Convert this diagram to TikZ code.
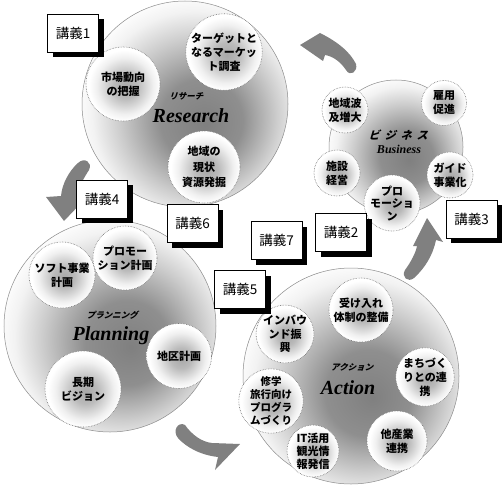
\documentclass[tikz,border=0pt]{standalone}
\usepackage{fontspec}
\newfontfamily\cjk{Noto Sans CJK JP}
\newfontfamily\cjkit{Noto Sans CJK JP}[FakeSlant=0.3]
\newfontfamily\tnr{Liberation Serif}
\usetikzlibrary{shadows}
\pgfdeclareradialshading{bigball}{\pgfpoint{5bp}{-5bp}}{color(0bp)=(black!50); color(10bp)=(black!44); color(19bp)=(black!20); color(25bp)=(black!5); color(29bp)=(white); color(50bp)=(white)}
\pgfdeclareradialshading{smallball}{\pgfpoint{2bp}{-2bp}}{color(0bp)=(black!34); color(8bp)=(black!27); color(19bp)=(black!6); color(24bp)=(white); color(50bp)=(white)}
\tikzset{
  bigc/.style={circle, draw=black!45, line width=0.5pt, shading=bigball, minimum size=#1, inner sep=0pt},
  subc/.style={circle, draw=black!55, densely dotted, line width=0.6pt, shading=smallball, minimum size=#1, inner sep=0pt, align=center, font=\cjk\bfseries\fontsize{11}{14}\selectfont},
  lect/.style={rectangle, draw=black, line width=0.8pt, fill=white, minimum width=51pt, minimum height=38pt, inner sep=0pt, font=\cjk\fontsize{13.5}{15}\selectfont, drop shadow={shadow xshift=5pt, shadow yshift=-5pt, fill=black, opacity=1}},
  kana/.style={font=\cjkit\bfseries\fontsize{8.5}{10}\selectfont, inner sep=0pt},
  engl/.style={font=\tnr\bfseries\itshape\fontsize{20}{24}\selectfont, inner sep=0pt},
  swoosh/.style={fill=black!50, draw=none},
}
\begin{document}
\begin{tikzpicture}[x=1pt, y=-1pt]
\useasboundingbox (0,0) rectangle (502,489);
\fill[white] (0,0) rectangle (502,489);

% ---------- big circles ----------
\node[bigc=206pt] (research) at (185,104) {};
\node[bigc=134pt] (business) at (396,147) {};
\node[bigc=212pt] (planning) at (110,326) {};
\node[bigc=216pt] (action) at (351,376) {};

% ---------- Research ----------
\node[subc=74pt] (r1) at (123,84) {市場動向\\の把握};
\node[subc=75pt] (r2) at (224,52) {ターゲットと\\なるマーケッ\\ト調査};
\node[subc=72pt, font=\cjk\bfseries\fontsize{11}{15.5}\selectfont] (r3) at (204,167) {地域の\\現状\\資源発掘};
\node[kana] (rk) at (186,96) {リサーチ};
\node[engl] (re) at (191,116) {Research};

% ---------- Business ----------
\node[subc=46pt] (b1) at (345,110) {地域波\\及増大};
\node[subc=45pt] (b2) at (444,103) {雇用\\促進};
\node[subc=46pt] (b3) at (337,173) {施設\\経営};
\node[subc=46pt, font=\cjk\bfseries\fontsize{11}{12.5}\selectfont] (b4) at (392,203) {プロ\\モーショ\\ン};
\node[subc=46pt] (b5) at (450,175) {ガイド\\事業化};
\node[font=\cjkit\bfseries\fontsize{11}{13}\selectfont, inner sep=0pt] (bk) at (398,135) {ビ\hspace{5pt}ジ\hspace{5pt}ネ\hspace{5pt}ス};
\node[font=\tnr\bfseries\itshape\fontsize{12}{14}\selectfont, inner sep=0pt] (be) at (399,149) {Business};

% ---------- Planning ----------
\node[subc=66pt] (p1) at (62,275) {ソフト事業\\計画};
\node[subc=64pt] (p2) at (125,258) {プロモー\\ション計画};
\node[subc=65pt] (p3) at (179,356) {地区計画};
\node[subc=76pt] (p4) at (83,389) {長期\\ビジョン};
\node[kana] (pk) at (112,315) {プランニング};
\node[engl] (pe) at (111,336) {Planning};

% ---------- Action ----------
\node[subc=64pt] (a1) at (361,310) {受け入れ\\体制の整備};
\node[subc=54pt, font=\cjk\bfseries\fontsize{11}{13.5}\selectfont] (a2) at (285,334) {インバウ\\ンド振\\興};
\node[subc=54pt] (a3) at (425,377) {まちづく\\りとの連\\携};
\node[subc=54pt, font=\cjk\bfseries\fontsize{10.5}{13}\selectfont] (a4) at (271,401) {修学\\旅行向け\\プログラ\\ムづくり};
\node[subc=52pt, font=\cjk\bfseries\fontsize{11}{13}\selectfont] (a5) at (313,451) {IT活用\\観光情\\報発信};
\node[subc=60pt] (a6) at (397,441) {他産業\\連携};
\node[kana] (ak) at (352,367) {アクション};
\node[engl] (ae) at (348,388) {Action};

% ---------- arrows ----------
\fill[swoosh] (300,45) -- (320,33) .. controls (338,42) and (350,52) .. (356,64)
  .. controls (358,72) and (350,77) .. (346,70)
  .. controls (340,61) and (332,56) .. (325,55) -- (323,61) -- cycle;
\fill[swoosh] (64,221) -- (46,197) -- (61,196) .. controls (62,184) and (69,171) .. (78,163)
  .. controls (84,157) and (93,162) .. (89,170)
  .. controls (83,179) and (78,189) .. (77,198) -- (85,199) -- cycle;
\fill[swoosh] (240,444) -- (215,470) -- (218,457) .. controls (200,455) and (186,447) .. (178,438)
  .. controls (172,431) and (178,421) .. (185,425)
  .. controls (192,435) and (202,442) .. (212,443) -- cycle;
\fill[swoosh] (427,218) -- (443,242) -- (436,240) .. controls (433,255) and (425,268) .. (414,278)
  .. controls (408,283) and (401,277) .. (405,270)
  .. controls (411,262) and (416,252) .. (417,246) -- (413,246) -- cycle;

% ---------- lecture boxes ----------
\node[lect] (l1) at (73,33.5) {講義1};
\node[lect] (l4) at (102,199) {講義4};
\node[lect] (l6) at (192.5,223.5) {講義6};
\node[lect] (l7) at (276.5,240.5) {講義7};
\node[lect] (l2) at (341,232.5) {講義2};
\node[lect] (l3) at (471.5,219) {講義3};
\node[lect] (l5) at (240,289.5) {講義5};
\end{tikzpicture}
\end{document}
